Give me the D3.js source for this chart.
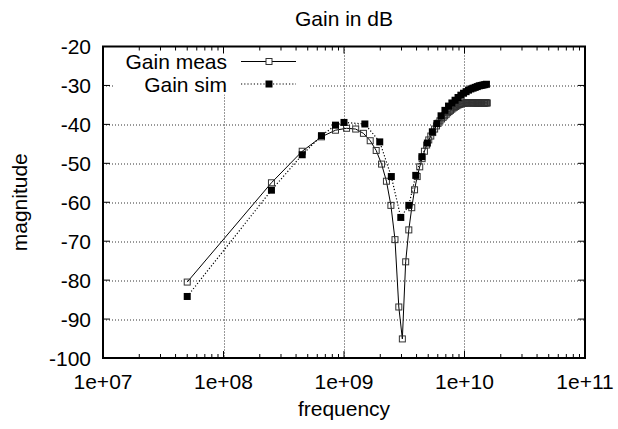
<!DOCTYPE html>
<html>
<head>
<meta charset="utf-8">
<script src="https://cdn.jsdelivr.net/npm/d3@7"></script>
<style>
  body { margin: 0; background: #fff; }
  svg text { font-family: "Liberation Sans", Arial, sans-serif; fill: #000; }
</style>
</head>
<body>
<div id="chart"></div>
<script>
// measured gain: frequency (Hz) and magnitude (dB)
const measFreq = [
  5e7, 2.5e8, 4.5e8, 6.5e8, 8.5e8, 1.05e9, 1.25e9, 1.45e9, 1.65e9, 1.85e9,
  2.05e9, 2.25e9, 2.45e9, 2.65e9, 2.85e9, 3.05e9, 3.25e9, 3.45e9, 3.65e9, 3.85e9,
  4.05e9, 4.25e9, 4.45e9, 4.65e9, 4.85e9, 5.05e9, 5.25e9, 5.45e9, 5.65e9, 5.85e9,
  6.05e9, 6.25e9, 6.45e9, 6.65e9, 6.85e9, 7.05e9, 7.25e9, 7.45e9, 7.65e9, 7.85e9,
  8.05e9, 8.25e9, 8.45e9, 8.65e9, 8.85e9, 9.05e9, 9.25e9, 9.45e9, 9.65e9, 9.85e9,
  1.005e10, 1.025e10, 1.045e10, 1.065e10, 1.085e10, 1.105e10, 1.125e10, 1.145e10, 1.165e10, 1.185e10,
  1.205e10, 1.225e10, 1.245e10, 1.265e10, 1.285e10, 1.305e10, 1.325e10, 1.345e10, 1.365e10, 1.385e10,
  1.405e10, 1.425e10, 1.445e10, 1.465e10, 1.485e10, 1.505e10, 1.525e10, 1.545e10
];
const measGain = [
  -80.5, -55.0, -46.9, -43.2, -41.5, -41.0, -41.2, -42.3, -44.2, -46.7,
  -50.2, -54.6, -60.8, -69.6, -86.9, -95.1, -75.3, -67.1, -61.4, -56.8,
  -53.4, -50.9, -48.8, -46.9, -45.3, -44.0, -43.0, -42.1, -41.2, -40.4,
  -39.7, -39.1, -38.6, -38.2, -37.8, -37.4, -37.0, -36.7, -36.4, -36.1,
  -35.8, -35.6, -35.4, -35.2, -35.0, -34.9, -34.8, -34.7, -34.6, -34.6,
  -34.5, -34.5, -34.4, -34.5, -34.4, -34.5, -34.5, -34.4, -34.5, -34.5,
  -34.4, -34.5, -34.5, -34.6, -34.5, -34.5, -34.4, -34.5, -34.5, -34.4,
  -34.5, -34.5, -34.6, -34.5, -34.5, -34.4, -34.5, -34.5
];

// simulated gain
const simFreq = [
  5e7, 2.5e8, 4.5e8, 6.5e8, 8.5e8, 1.0e9, 1.49e9, 1.98e9, 2.47e9, 2.96e9,
  3.45e9, 3.94e9, 4.43e9, 4.92e9, 5.41e9, 5.9e9, 6.39e9, 6.88e9, 7.37e9, 7.86e9,
  8.35e9, 8.84e9, 9.33e9, 9.82e9, 1.031e10, 1.08e10, 1.129e10, 1.178e10, 1.227e10, 1.276e10,
  1.325e10, 1.374e10, 1.423e10, 1.472e10, 1.521e10
];
const simGain = [
  -84.2, -56.9, -47.8, -42.9, -40.2, -39.5, -39.9, -44.5, -53.4, -63.9,
  -60.8, -53.1, -48.3, -44.8, -41.9, -39.8, -37.8, -36.4, -35.3, -34.5,
  -33.8, -33.1, -32.5, -32.0, -31.6, -31.2, -30.9, -30.7, -30.5, -30.3,
  -30.1, -30.0, -29.9, -29.8, -29.7
];

const xDecades = [1e7, 1e8, 1e9, 1e10, 1e11];
const yTicks = [-100, -90, -80, -70, -60, -50, -40, -30, -20];
const seriesNames = ["Gain meas", "Gain sim"];

const W = 618, H = 429;
const margin = { top: 46.5, right: 33, bottom: 71, left: 103 };
const width = W - margin.left - margin.right;
const height = H - margin.top - margin.bottom;
const fs = 21;

const svg = d3.select("#chart").append("svg")
  .attr("width", W)
  .attr("height", H);

const g = svg.append("g")
  .attr("transform", "translate(" + margin.left + "," + margin.top + ")");

const x = d3.scaleLog().domain([1e7, 1e11]).range([0, width]);
const y = d3.scaleLinear().domain([-100, -20]).range([height, 0]);

// grid
const grid = g.append("g").attr("class", "grid")
  .attr("stroke", "#333").attr("stroke-width", 1).attr("stroke-dasharray", "1,2");
grid.selectAll(".gx").data(xDecades.slice(1, -1)).enter().append("line")
  .attr("x1", d => Math.round(x(d)) + 0.5).attr("x2", d => Math.round(x(d)) + 0.5)
  .attr("y1", 0).attr("y2", height);
grid.selectAll(".gy").data(yTicks.slice(1, -1)).enter().append("line")
  .attr("x1", 0).attr("x2", width)
  .attr("y1", d => Math.round(y(d)) + 0.5).attr("y2", d => Math.round(y(d)) + 0.5);

// legend background hides the grid behind the key
g.append("rect")
  .attr("x", 10).attr("y", 0).attr("width", 197).attr("height", 48)
  .attr("fill", "#fff");

// minor + major ticks on all four sides (gnuplot style, pointing inward)
const minor = [];
for (let e = 7; e < 11; e++) {
  for (let m = 2; m <= 9; m++) minor.push(m * Math.pow(10, e));
}
const ticks = g.append("g").attr("stroke", "#000").attr("stroke-width", 1);
ticks.selectAll(".mb").data(minor).enter().append("line")
  .attr("x1", d => x(d)).attr("x2", d => x(d)).attr("y1", height).attr("y2", height - 4);
ticks.selectAll(".mt").data(minor).enter().append("line")
  .attr("x1", d => x(d)).attr("x2", d => x(d)).attr("y1", 0).attr("y2", 4);
ticks.selectAll(".Mb").data(xDecades).enter().append("line")
  .attr("x1", d => x(d)).attr("x2", d => x(d)).attr("y1", height).attr("y2", height - 7);
ticks.selectAll(".Mt").data(xDecades).enter().append("line")
  .attr("x1", d => x(d)).attr("x2", d => x(d)).attr("y1", 0).attr("y2", 7);
ticks.selectAll(".Ml").data(yTicks).enter().append("line")
  .attr("x1", 0).attr("x2", 7).attr("y1", d => y(d)).attr("y2", d => y(d));
ticks.selectAll(".Mr").data(yTicks).enter().append("line")
  .attr("x1", width).attr("x2", width - 7).attr("y1", d => y(d)).attr("y2", d => y(d));

// tick labels
g.selectAll(".xl").data(xDecades).enter().append("text")
  .attr("x", d => x(d)).attr("y", height + 31)
  .attr("text-anchor", "middle").attr("font-size", fs)
  .text(d => "1e+" + String(Math.round(Math.log10(d))).padStart(2, "0"));
g.selectAll(".yl").data(yTicks).enter().append("text")
  .attr("x", -12).attr("y", d => y(d) + 7.5)
  .attr("text-anchor", "end").attr("font-size", fs)
  .text(d => d);

// border
g.append("rect")
  .attr("x", 0).attr("y", 0).attr("width", width).attr("height", height)
  .attr("fill", "none").attr("stroke", "#000").attr("stroke-width", 2);

// titles
svg.append("text").attr("x", margin.left + width / 2).attr("y", 26)
  .attr("text-anchor", "middle").attr("font-size", fs).text("Gain in dB");
svg.append("text").attr("x", margin.left + width / 2).attr("y", 416)
  .attr("text-anchor", "middle").attr("font-size", fs).text("frequency");
svg.append("text")
  .attr("transform", "translate(27," + (margin.top + height / 2) + ") rotate(-90)")
  .attr("text-anchor", "middle").attr("font-size", fs).text("magnitude");

const meas = measFreq.map((f, i) => ({ f: f, v: measGain[i] }));
const sim = simFreq.map((f, i) => ({ f: f, v: simGain[i] }));

const line = d3.line().x(d => x(d.f)).y(d => y(d.v));

// measured series: solid line, open squares
g.append("path").datum(meas)
  .attr("d", line).attr("fill", "none").attr("stroke", "#000").attr("stroke-width", 1);
// simulated series: dotted line, filled squares
g.append("path").datum(sim)
  .attr("d", line).attr("fill", "none").attr("stroke", "#000").attr("stroke-width", 1.2)
  .attr("stroke-dasharray", "1.2,2");

g.selectAll(".pm").data(meas).enter().append("rect")
  .attr("x", d => x(d.f) - 3).attr("y", d => y(d.v) - 3)
  .attr("width", 6).attr("height", 6)
  .attr("fill", "none").attr("stroke", "#333").attr("stroke-width", 1);
g.selectAll(".ps").data(sim).enter().append("rect")
  .attr("x", d => x(d.f) - 3.5).attr("y", d => y(d.v) - 3.5)
  .attr("width", 7).attr("height", 7)
  .attr("fill", "#000");

// legend
const legend = g.append("g");
const ly = [15, 37.5];
legend.selectAll("text").data(seriesNames).enter().append("text")
  .attr("x", 124).attr("y", (d, i) => ly[i] + 7.5)
  .attr("text-anchor", "end").attr("font-size", fs)
  .text(d => d);
legend.append("line").attr("x1", 138).attr("x2", 193).attr("y1", ly[0]).attr("y2", ly[0])
  .attr("stroke", "#000");
legend.append("rect").attr("x", 163).attr("y", ly[0] - 3).attr("width", 6).attr("height", 6)
  .attr("fill", "#fff").attr("stroke", "#333");
legend.append("line").attr("x1", 138).attr("x2", 193).attr("y1", ly[1]).attr("y2", ly[1])
  .attr("stroke", "#000").attr("stroke-width", 1.2).attr("stroke-dasharray", "1.2,2");
legend.append("rect").attr("x", 162.5).attr("y", ly[1] - 3.5).attr("width", 7).attr("height", 7)
  .attr("fill", "#000");
</script>
</body>
</html>
